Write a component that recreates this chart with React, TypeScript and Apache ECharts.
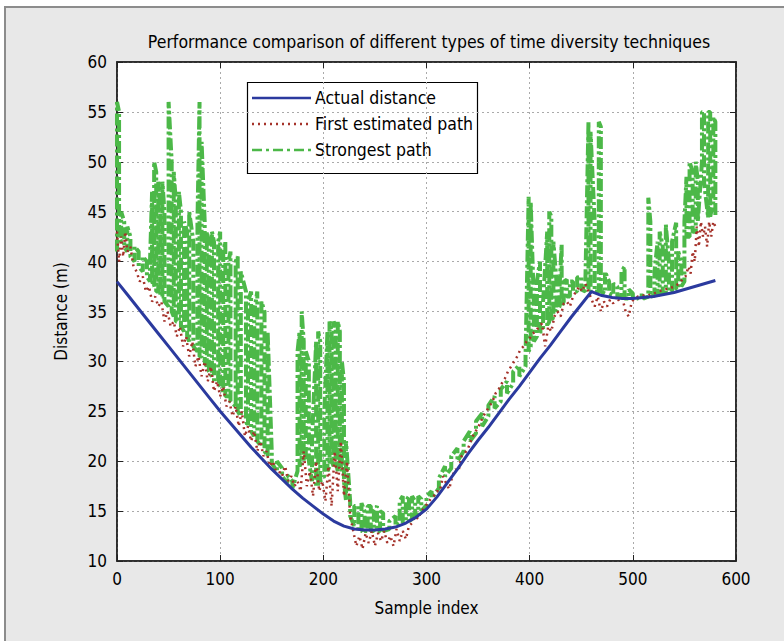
import React, { useEffect, useRef } from "react";
import * as echarts from "echarts";

const FONT = "'Liberation Sans Narrow', 'DejaVu Sans Condensed', 'Roboto', sans-serif";

const TITLE = "Performance comparison of different types of time diversity techniques";
const X_NAME = "Sample index";
const Y_NAME = "Distance (m)";
const SERIES_NAMES = ["Actual distance", "First estimated path", "Strongest path"];

const X_MIN = 0, X_MAX = 600, X_STEP = 100;
const Y_MIN = 10, Y_MAX = 60, Y_STEP = 5;

// Actual distance
const actualX = [0,10,20,30,40,50,60,70,80,90,100,110,120,130,140,150,160,170,180,190,200,210,220,230,240,250,260,270,280,290,300,310,320,330,340,350,360,370,380,390,400,410,420,430,440,450,460,470,480,490,500,510,520,530,540,550,560,570,580];
const actualY = [38.0,36.7,35.4,34.1,32.8,31.5,30.2,28.9,27.6,26.3,25.0,23.8,22.6,21.4,20.3,19.2,18.2,17.2,16.3,15.5,14.7,14.0,13.5,13.2,13.1,13.1,13.2,13.4,13.8,14.4,15.2,16.4,17.8,19.2,20.7,22.1,23.4,24.8,26.2,27.5,28.9,30.3,31.6,33.0,34.4,35.7,37.0,36.6,36.4,36.3,36.3,36.4,36.5,36.7,36.9,37.2,37.5,37.8,38.1];

// First estimated path
const firstX = [0,2,4,6,8,10,13,16,19,22,25,28,31,34,37,40,43,46,49,52,55,58,61,64,67,70,73,76,79,82,85,88,91,94,97,100,103,106,109,112,115,118,121,124,127,130,133,136,139,142,145,148,151,154,157,160,163,166,169,172,175,178,181,184,187,190,193,196,199,202,205,208,211,214,217,220,223,226,229,232,235,238,241,244,247,250,253,256,259,262,265,268,271,274,277,280,283,286,289,292,295,298,301,304,307,310,313,316,319,322,325,328,331,334,337,340,343,346,349,352,355,358,361,364,367,370,373,376,379,382,385,388,391,394,397,400,403,406,409,412,415,418,421,424,427,430,433,436,439,442,445,448,451,454,457,460,463,466,469,472,475,478,481,484,487,490,493,496,499,502,505,510,515,520,525,530,535,540,545,548,551,554,556,558,560,562,564,566,568,570,572,574,576,578,580];
const firstY = [43,40,42.5,40.5,43,41,41.5,39.5,39,38,38.5,37,37.5,36,36.5,35.5,36,34,35,33.5,34,32.5,33.5,31.5,32.5,30.5,32,29.5,30.5,28.5,30,28,29.5,27,28,26.5,27.5,25.5,26,24.5,25.5,23.5,25,22.5,23.5,22,23,21,22,20.5,21,19.5,20,19,19,18.5,19.5,18,18.5,17.5,18,17,21,17.5,19,16.5,20,17,18,16,19.5,15.5,21,17,22,16.5,20,14.5,13,11.5,12.5,11.2,12.8,11.8,13,11.5,12.8,12,13,11.8,12.5,11.5,13.2,12,13,12.2,13.5,13.8,14.5,14.2,15,15.3,15.8,16.2,16.5,17,17,18.5,17.8,17.2,18.5,19.2,19,20.5,20.8,21.2,22,22.8,23.2,23.8,24.5,25,25.5,26,26.8,27.2,27.8,28.3,29,29.5,30,30.5,31.2,31.5,32,32.3,32.8,33,33.5,33.8,31.5,33.5,33,34.5,35,34.5,35.8,36,35.5,36.5,37,37.5,37,37.8,37,36.2,35.5,36.5,35,36,35.5,36.2,35.8,36.5,36,36.3,35,34.5,36,36.3,36.5,36.6,36.6,36.8,37,37.2,37.3,37.5,37.8,38.2,38.5,39.5,38.8,41,40,43.5,41.5,44,42.5,43.5,41.5,44,42.5,44,43.5];

// Strongest path: vertical excursions per sample (low / high)
const strongX = [0,2,4,7,10,13,17,21,25,29,32,34,36,38,40,42,44,46,50,53,55,57,60,62,65,68,70,74,78,80,82,85,87,89,92,94,98,100,103,105,108,110,115,117,120,125,127,130,133,136,140,143,146,150,155,160,165,170,175,177,179,181,183,186,189,193,195,197,201,204,206,208,210,212,214,216,218,220,222,226,230,234,237,240,243,246,249,252,255,258,264,270,274,277,280,283,286,289,292,295,300,305,312,318,324,330,336,342,348,354,360,366,372,378,384,390,396,399,401,404,407,410,413,417,419,421,423,426,429,431,433,436,439,442,446,450,454,457,459,463,467,469,473,477,481,485,489,492,496,500,505,510,515,517,521,524,526,529,532,535,538,542,544,547,550,552,555,558,561,563,567,569,573,575,578,580];
const strongLo = [41,42.5,42,41.5,41,40.5,40,39.5,39,38.5,38,38,37.5,37,37,36.5,36.5,36,35.5,35,34.5,34,34,33.5,33,32.5,32,31.5,31,30.5,30.5,30,29.5,29,28.5,28,28,27.5,27,26.5,26.5,26,25.5,25,24.5,24,23.5,23,22.5,22,21.5,21,20.5,19.8,19,18.5,17.8,17.3,19,19.5,20,20,20.5,20,18,17.5,17.5,18,18.5,19,19.5,20,19.5,20,19,20,19,18,16,14.5,13.5,13,13,13,13,13,13,13,13,13,13.2,13.5,13.8,13.8,14,14,14.2,14.5,14.8,15,15.6,16.3,17.3,18.5,19.3,20,21,22,22.8,23.5,24.5,25.3,26,26.8,27.8,28.5,29.5,31,31.5,32,32.5,33,33,33.5,34,34,34.5,35,35.5,35.5,36,36.5,36.5,37,37,37.2,37,37,37,37,37,37,36.8,36.8,36.6,36.5,36.5,36.3,36.3,36.3,36.3,36.3,36.5,36.5,36.6,36.7,36.7,36.8,36.9,37,37,37.2,37.3,37.5,38,42.5,42.5,43,43,44,50,48,44.4,44.5,46,44.5];
const strongHi = [56,55,45,44,43.5,42.5,41.5,41,40.5,40,40,47,50,49,48,46,48,45,56,50,49,46,47,45,44,43,45,42,44,56,52,44,43,42,43,42,42,43,41,42,40,41,40,40.5,39,37,36,37,35,37,36,35,33,21,20,19.3,18.6,18,31,33,35,32,31,30,22,32,33,32,25,33,34,33,34,33.5,34,33,30,28,22,16,15.5,15.5,15.8,15,15.5,15.5,15,15.5,15,14.8,14,14.5,16,16.5,16,16.5,16.5,16,16.5,16.2,16.5,17,18.3,19.5,20.5,21.3,22,23,24,24.8,25.6,26.5,27.2,28,29,29.6,30.5,46.5,46,36,38,40,36,43,45,44.5,42,38,37.5,41.7,38,38.2,38,38,38.4,38.5,38,54,53,44,54,53.5,39,38,37.8,37.5,39,39.5,37.2,36.8,36.6,36.6,46.4,44,39,42,43,41.5,43.7,40,42,43.9,41,40,44,48.5,50,49,50,48,55,55,55,55,54.5,54];

// alternate up / down strokes so each excursion is a vertical stroke
const strongPath = () =>
  strongX.flatMap((x, i) =>
    i % 2 === 0
      ? [[x, strongLo[i]], [x, strongHi[i]]]
      : [[x, strongHi[i]], [x, strongLo[i]]]
  );

const zip = (xs: number[], ys: number[]) => xs.map((x, i) => [x, ys[i]]);

const COLORS = { actual: "#2b3a9e", first: "#a5322a", strong: "#4cb848" };

export default function App() {
  const ref = useRef<HTMLDivElement>(null);
  useEffect(() => {
    if (!ref.current) return;
    const chart = echarts.init(ref.current, undefined, { renderer: "svg" });
    const axisText = { color: "#000", fontSize: 17, fontFamily: FONT };
    const legendY = [98, 124, 150];
    const legendStyles = [
      { stroke: COLORS.actual, lineWidth: 2.5 },
      { stroke: COLORS.first, lineWidth: 2.5, lineDash: [2, 4] },
      { stroke: COLORS.strong, lineWidth: 2.5, lineDash: [10, 4, 3, 4] },
    ];
    const option: any = {
      animation: false,
      backgroundColor: "#fff",
      graphic: [
        {
          type: "rect",
          z: -10,
          silent: true,
          shape: { x: 5, y: 7, width: 800, height: 660 },
          style: { fill: "#e8e8e8", stroke: "#8c8c8c", lineWidth: 2 },
        },
        {
          type: "text",
          x: 429,
          y: 42,
          style: {
            text: TITLE,
            fill: "#000",
            font: `17.5px ${FONT}`,
            textAlign: "center",
            textVerticalAlign: "middle",
          },
        },
        {
          type: "group",
          z: 100,
          children: [
            {
              type: "rect",
              shape: { x: 247.5, y: 82.5, width: 230, height: 91 },
              style: { fill: "#fff", stroke: "#000", lineWidth: 1.2 },
            },
            ...SERIES_NAMES.map((n, i) => ({
              type: "line",
              shape: { x1: 252, y1: legendY[i], x2: 311, y2: legendY[i] },
              style: legendStyles[i],
            })),
            ...SERIES_NAMES.map((n, i) => ({
              type: "text",
              x: 315,
              y: legendY[i],
              style: {
                text: n,
                fill: "#000",
                font: `17.5px ${FONT}`,
                textAlign: "left",
                textVerticalAlign: "middle",
              },
            })),
          ],
        },
      ],
      grid: {
        left: 117,
        top: 62,
        width: 619,
        height: 499,
        show: true,
        backgroundColor: "#fff",
        borderColor: "#222",
        borderWidth: 1.5,
      },
      xAxis: [
        {
          type: "value",
          min: X_MIN,
          max: X_MAX,
          interval: X_STEP,
          position: "bottom",
          name: X_NAME,
          nameLocation: "middle",
          nameGap: 38,
          nameTextStyle: axisText,
          axisLine: { show: true, onZero: false, lineStyle: { color: "#222", width: 1.5 } },
          axisTick: { show: true, inside: true, length: 6, lineStyle: { color: "#222" } },
          axisLabel: { ...axisText, margin: 9 },
          splitLine: { show: true, lineStyle: { color: "#aaa", type: [2, 3], width: 1 } },
        },
        {
          type: "value",
          min: X_MIN,
          max: X_MAX,
          interval: X_STEP,
          position: "top",
          axisLine: { show: true, onZero: false, lineStyle: { color: "#222", width: 1.5 } },
          axisTick: { show: true, inside: true, length: 6, lineStyle: { color: "#222" } },
          axisLabel: { show: false },
          splitLine: { show: false },
        },
      ],
      yAxis: [
        {
          type: "value",
          min: Y_MIN,
          max: Y_MAX,
          interval: Y_STEP,
          position: "left",
          name: Y_NAME,
          nameLocation: "middle",
          nameGap: 48,
          nameRotate: 90,
          nameTextStyle: axisText,
          axisLine: { show: true, onZero: false, lineStyle: { color: "#222", width: 1.5 } },
          axisTick: { show: true, inside: true, length: 6, lineStyle: { color: "#222" } },
          axisLabel: { ...axisText, margin: 10 },
          splitLine: { show: true, lineStyle: { color: "#aaa", type: [2, 3], width: 1 } },
        },
        {
          type: "value",
          min: Y_MIN,
          max: Y_MAX,
          interval: Y_STEP,
          position: "right",
          axisLine: { show: true, onZero: false, lineStyle: { color: "#222", width: 1.5 } },
          axisTick: { show: true, inside: true, length: 6, lineStyle: { color: "#222" } },
          axisLabel: { show: false },
          splitLine: { show: false },
        },
      ],
      series: [
        {
          name: SERIES_NAMES[2],
          type: "line",
          data: strongPath(),
          symbol: "none",
          z: 2,
          lineStyle: { color: COLORS.strong, width: 4, type: [12, 3, 3, 3] },
        },
        {
          name: SERIES_NAMES[1],
          type: "line",
          data: zip(firstX, firstY),
          symbol: "none",
          z: 3,
          lineStyle: { color: COLORS.first, width: 2.5, type: [2, 4] },
        },
        {
          name: SERIES_NAMES[0],
          type: "line",
          data: zip(actualX, actualY),
          symbol: "none",
          z: 4,
          lineStyle: { color: COLORS.actual, width: 3 },
        },
      ],
    };
    chart.setOption(option);
    return () => chart.dispose();
  }, []);
  return (
    <div
      ref={ref}
      style={{ position: "absolute", left: 0, top: 0, width: 784, height: 641 }}
    />
  );
}
